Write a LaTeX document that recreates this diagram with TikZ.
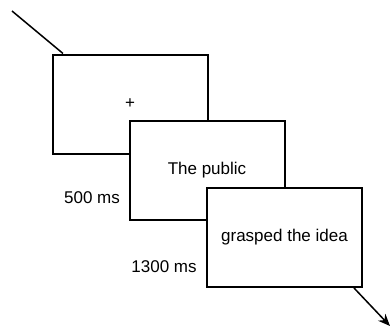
\documentclass[tikz,border=0pt]{standalone}
\usepackage{fontspec}
\setmainfont{Liberation Sans}
\usetikzlibrary{arrows.meta}

\begin{document}
\begin{tikzpicture}[x=1pt, y=-1pt, >={Stealth[length=12pt, width=10pt]},
    screen/.style={draw, fill=white, line width=2pt, minimum width=155pt, minimum height=99pt, inner sep=0pt},
    timing/.style={inner sep=0pt}]
    \fontsize{17}{20}\selectfont
    \useasboundingbox (0,0) rectangle (391,327);

    % Screens
    \node[screen] (fix) at (130,104) {+};
    \node[screen] (wordA) at (207,170.5) {The public};
    \node[screen] (wordB) at (284.5,237.5) {grasped the idea};

    % Durations
    \node[timing] (durA) at (92,198) {500 ms};
    \node[timing] (durB) at (164,267) {1300 ms};

    % Time line
    \coordinate (start) at (12,11);
    \coordinate (stop) at (390,326);
    \draw[line width=1.5pt] (start) -- (fix.143);
    \draw[->, line width=1.5pt] (wordB.-36) -- (stop);
\end{tikzpicture}
\end{document}
